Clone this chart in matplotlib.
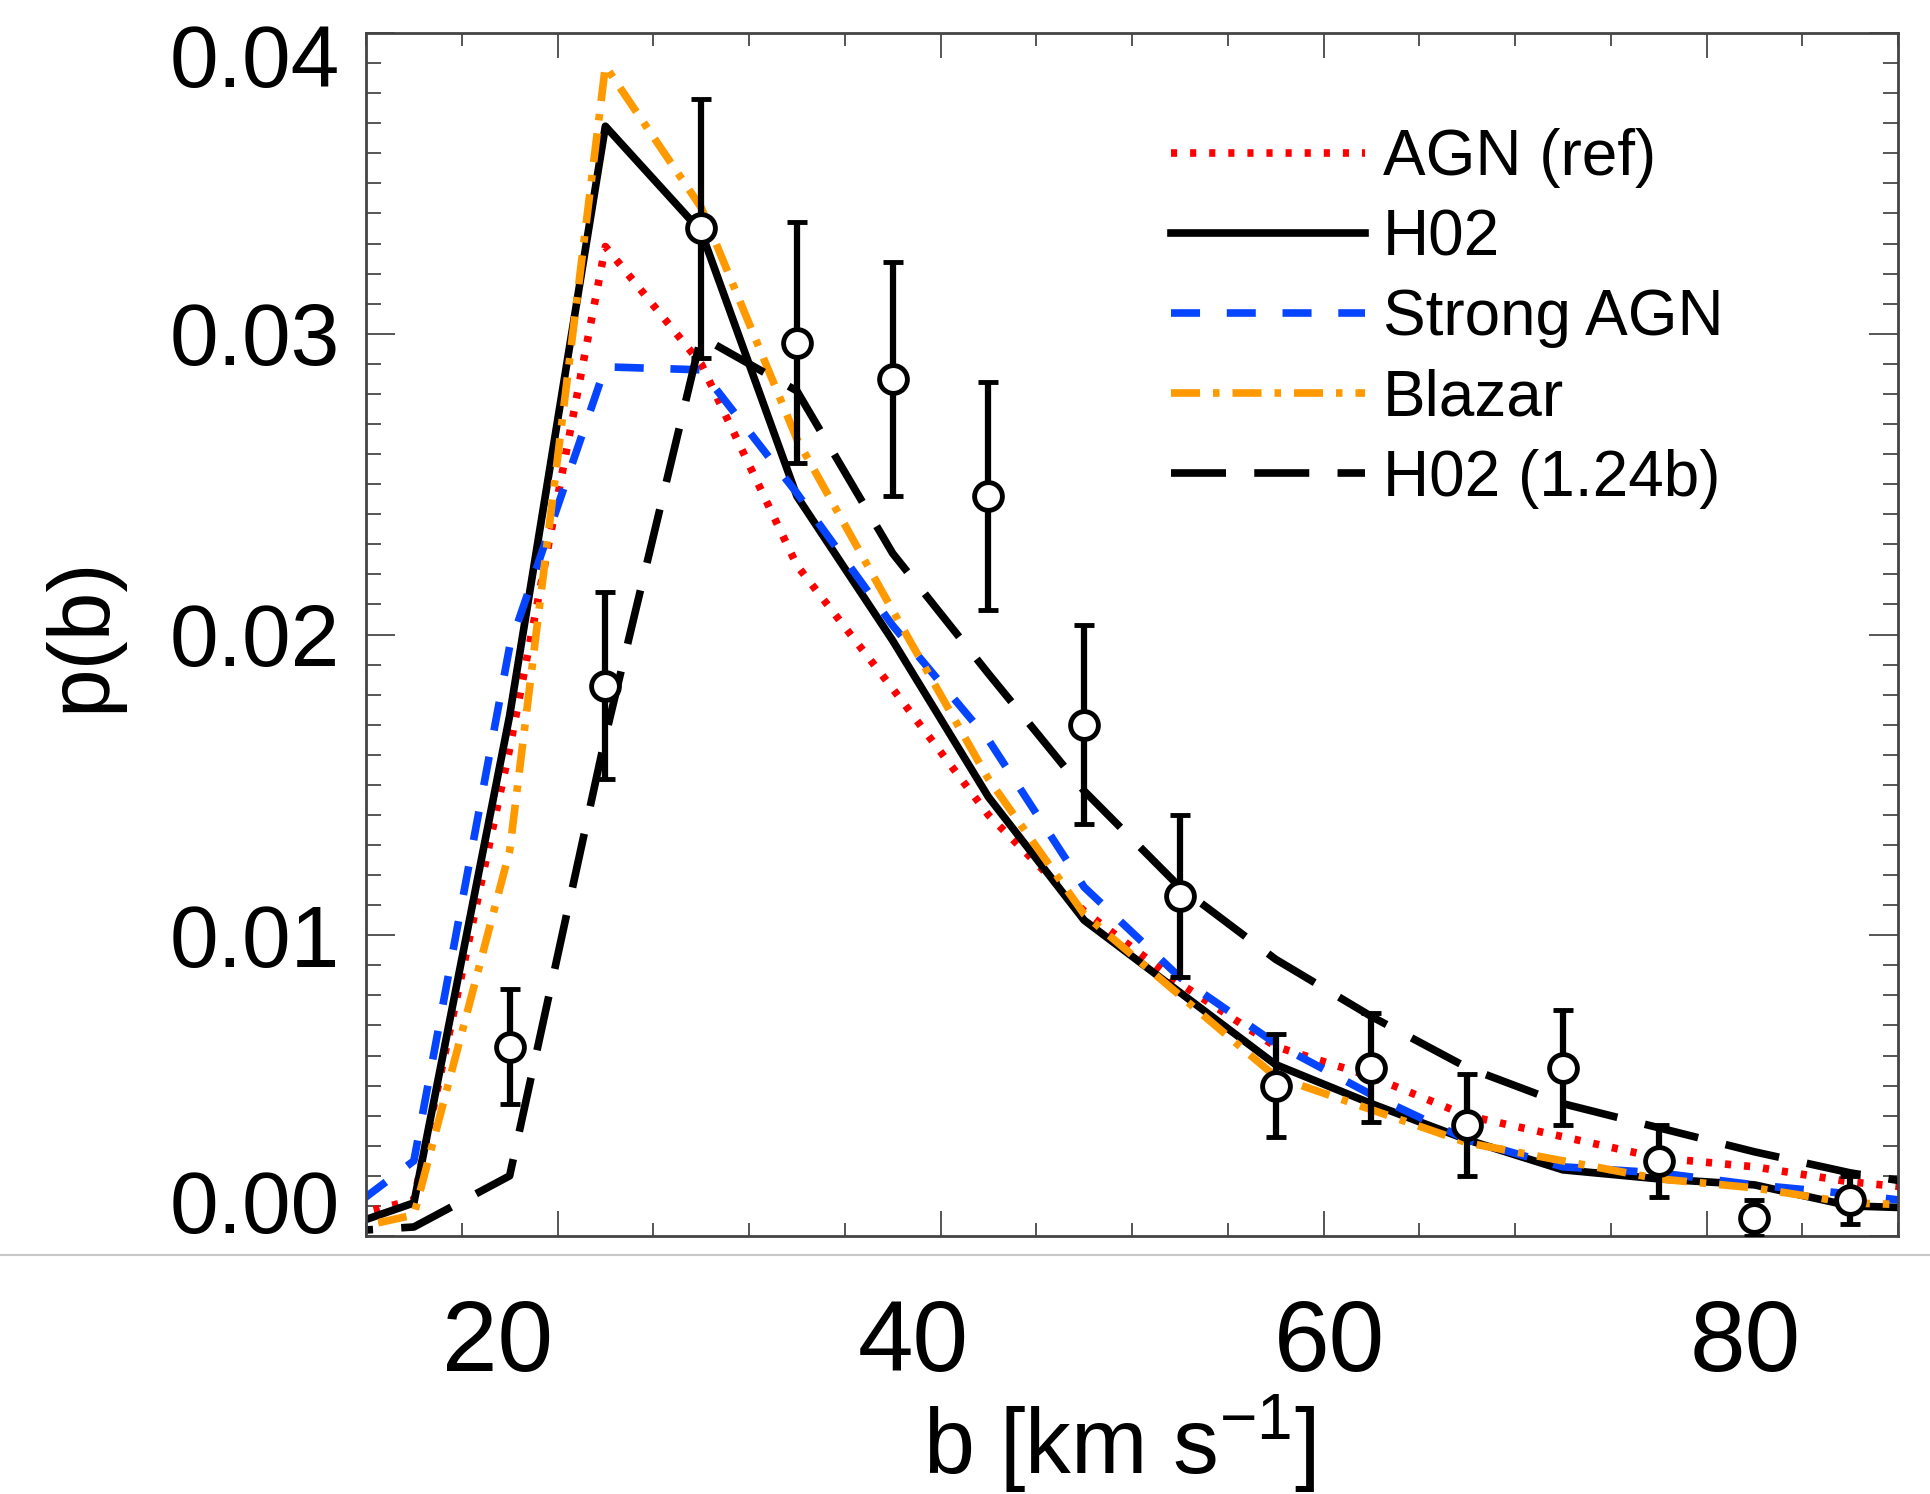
import matplotlib
matplotlib.use('Agg')
import matplotlib.pyplot as plt
import matplotlib.transforms as mtransforms
from matplotlib.lines import Line2D
from matplotlib.ticker import MultipleLocator
import numpy as np

plt.rcParams['font.family'] = ['Liberation Sans', 'DejaVu Sans']
plt.rcParams['mathtext.fontset'] = 'custom'
plt.rcParams['mathtext.rm'] = 'Liberation Sans'
plt.rcParams['mathtext.it'] = 'Liberation Sans'

# model curves, b in km/s (bin centres, one extra bin each side so lines reach the frame)
b_model = [7.5, 12.5, 17.5, 22.5, 27.5, 32.5, 37.5, 42.5, 47.5, 52.5,
           57.5, 62.5, 67.5, 72.5, 77.5, 82.5, 87.5, 92.5]
p_agn_ref = [0.0004, 0.0012, 0.0162, 0.0329, 0.0290, 0.0223, 0.0182, 0.0140, 0.0108, 0.0084,
             0.0063, 0.0053, 0.0040, 0.0033, 0.0026, 0.0023, 0.0018, 0.0015]
p_h02 = [0.0, 0.0011, 0.0173, 0.0369, 0.0334, 0.0246, 0.0198, 0.0146, 0.0105, 0.0081,
         0.0057, 0.0044, 0.0032, 0.0022, 0.0019, 0.0017, 0.0010, 0.0009]
p_strong_agn = [0.0001, 0.0025, 0.0196, 0.0289, 0.0288, 0.0247, 0.0203, 0.0165, 0.0116, 0.0086,
                0.0064, 0.0047, 0.0032, 0.0023, 0.0021, 0.0017, 0.0014, 0.0010]
p_blazar = [0.0, 0.0007, 0.0128, 0.0389, 0.0342, 0.0265, 0.0208, 0.0152, 0.0107, 0.0080,
            0.0053, 0.0042, 0.0031, 0.0025, 0.0019, 0.0016, 0.0011, 0.0010]
p_h02_124 = [0.0001, 0.0003, 0.0020, 0.0166, 0.0299, 0.0281, 0.0227, 0.0187, 0.0148, 0.0116,
             0.0092, 0.0073, 0.0056, 0.0044, 0.0036, 0.0028, 0.0021, 0.0016]

# observed distribution with errors
b_obs = [17.5, 22.5, 27.5, 32.5, 37.5, 42.5, 47.5, 52.5, 57.5, 62.5, 67.5, 72.5, 77.5, 82.5, 87.5]
p_obs = [0.0063, 0.0183, 0.0335, 0.0297, 0.0285, 0.0246, 0.0170, 0.0113, 0.0050, 0.0056,
         0.0037, 0.0056, 0.0025, 0.0006, 0.0012]
p_err = [0.0019, 0.0031, 0.0043, 0.0040, 0.0039, 0.0038, 0.0033, 0.0027, 0.0017, 0.0018,
         0.0017, 0.0019, 0.0012, 0.0006, 0.0008]

x_ticks = [20, 40, 60, 80]
y_ticks = [0.00, 0.01, 0.02, 0.03, 0.04]
# the tick labels of the original sit a bit off their ticks (pixels)
x_label_shift = [-60, -27, 6, 39]
y_label_shift = {0: 35, 4: -22}


def main():
    W, H = 1931, 1494
    fig = plt.figure(figsize=(W / 100, H / 100), dpi=100)
    ax = fig.add_axes([366 / W, 1 - 1236 / H, 1532 / W, 1203 / H])

    lw = 5.5
    ax.plot(b_model, p_agn_ref, color='#ff0000', lw=lw, dashes=(0.8, 1.7), label='AGN (ref)')
    ax.plot(b_model, p_h02, color='black', lw=lw, label='H02')
    ax.plot(b_model, p_strong_agn, color='#0645ff', lw=lw, dashes=(3.8, 3.5), label='Strong AGN')
    ax.plot(b_model, p_blazar, color='#ff9900', lw=lw, dashes=(3.8, 1.7, 0.85, 1.7), label='Blazar')
    ax.plot(b_model, p_h02_124, color='black', lw=lw, dashes=(7.2, 3.7), label='H02 (1.24b)')

    ax.errorbar(b_obs, p_obs, yerr=p_err, fmt='o', color='black', ms=20, mfc='white',
                mec='black', mew=3.5, elinewidth=4.5, capsize=7, capthick=5, zorder=5)

    ax.set_xlim(10, 90)
    ax.set_ylim(0, 0.04)
    ax.set_xticks(x_ticks)
    ax.set_yticks(y_ticks)
    ax.set_yticklabels(['0.00', '0.01', '0.02', '0.03', '0.04'])
    ax.xaxis.set_minor_locator(MultipleLocator(5))
    ax.yaxis.set_minor_locator(MultipleLocator(0.001))
    ax.tick_params(which='both', direction='in', top=True, right=True, color='#555555', width=1.4)
    ax.tick_params(axis='x', which='major', length=18, labelsize=72, pad=45)
    ax.tick_params(axis='x', which='minor', length=9.4)
    ax.tick_params(axis='y', which='major', length=21, labelsize=63, pad=19)
    ax.tick_params(axis='y', which='minor', length=10.8)
    for s in ax.spines.values():
        s.set_color('#444444')
        s.set_linewidth(2)

    for lab, dx in zip(ax.get_xticklabels(), x_label_shift):
        lab.set_transform(lab.get_transform() + mtransforms.ScaledTranslation(dx / 100, 0, fig.dpi_scale_trans))
    for i, lab in enumerate(ax.get_yticklabels()):
        if i in y_label_shift:
            dy = y_label_shift[i]
            lab.set_transform(lab.get_transform() + mtransforms.ScaledTranslation(0, dy / 100, fig.dpi_scale_trans))

    ax.set_xlabel(r'b [km s$^{\mathregular{-1}}$]', fontsize=66)
    ax.xaxis.set_label_coords(0.492, -0.130)
    ax.set_ylabel('p(b)', fontsize=63)
    ax.yaxis.set_label_coords(-0.159, 0.5)

    ax.legend(loc='upper left', bbox_to_anchor=(0.5255, 0.921), frameon=False, fontsize=46,
              handlelength=3.04, handletextpad=0.27, labelspacing=0.316, borderpad=0, borderaxespad=0)

    # thin grey seam under the frame
    fig.add_artist(Line2D([0, 1], [1 - 1255 / H, 1 - 1255 / H], transform=fig.transFigure,
                          color='#c8c8c8', lw=1.5))

    fig.savefig('out.png', dpi=100)


if __name__ == '__main__':
    main()
